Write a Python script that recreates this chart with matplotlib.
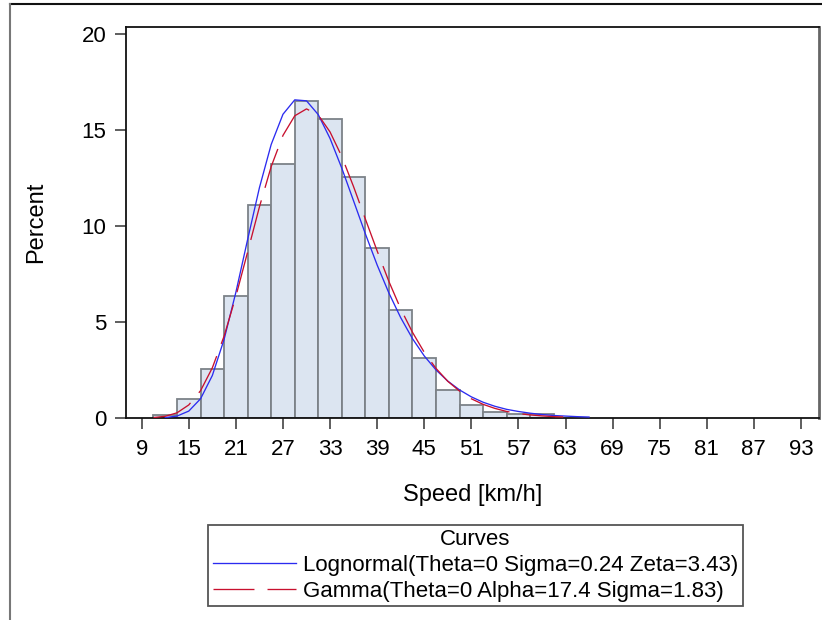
import matplotlib
matplotlib.use("Agg")
import matplotlib.pyplot as plt
from matplotlib.lines import Line2D

plt.rcParams['font.family'] = ['Liberation Sans', 'DejaVu Sans']
plt.rcParams['lines.scale_dashes'] = False

# histogram: bin midpoints (km/h) and percent of observations
bin_mid = [12, 15, 18, 21, 24, 27, 30, 33, 36, 39, 42, 45, 48, 51, 54, 57, 60]
percent = [0.17, 0.99, 2.53, 6.37, 11.06, 13.23, 16.48, 15.57, 12.54, 8.85,
           5.61, 3.13, 1.44, 0.66, 0.33, 0.21, 0.19]
bin_width = 3

# fitted curves
logn_x = [12, 13.5, 15, 16.5, 18, 19.5, 21, 22.5, 24, 25.5, 27, 28.5, 30, 31.5,
          33, 34.5, 36, 37.5, 39, 40.5, 42, 43.5, 45, 46.5, 48, 49.5, 51, 52.5,
          54, 55.5, 57, 58.5, 60, 61.5, 63, 64.5, 66]
logn_y = [0.02, 0.10, 0.36, 1.00, 2.21, 4.09, 6.54, 9.29, 11.98, 14.23, 15.80,
          16.55, 16.50, 15.78, 14.54, 12.99, 11.29, 9.58, 7.96, 6.50, 5.22, 4.13,
          3.23, 2.50, 1.92, 1.46, 1.10, 0.82, 0.61, 0.45, 0.34, 0.25, 0.18, 0.13,
          0.10, 0.07, 0.05]
gamma_x = [10.5, 12, 13.5, 15, 16.5, 18, 19.5, 21, 22.5, 24, 25.5, 27, 28.5, 30,
           31.5, 33, 34.5, 36, 37.5, 39, 40.5, 42, 43.5, 45, 46.5, 48, 49.5, 51,
           52.5, 54, 55.5, 57, 58.5, 60, 61.5, 63]
gamma_y = [0.02, 0.09, 0.27, 0.68, 1.42, 2.61, 4.26, 6.33, 8.64, 10.98, 13.08,
           14.70, 15.72, 16.08, 15.76, 14.88, 13.60, 12.03, 10.35, 8.69, 7.10,
           5.68, 4.46, 3.42, 2.58, 1.91, 1.40, 1.00, 0.71, 0.50, 0.34, 0.23, 0.16,
           0.11, 0.07, 0.05]

x_ticks = [9, 15, 21, 27, 33, 39, 45, 51, 57, 63, 69, 75, 81, 87, 93]
y_ticks = [0, 5, 10, 15, 20]

logn_label = "Lognormal(Theta=0 Sigma=0.24 Zeta=3.43)"
gamma_label = "Gamma(Theta=0 Alpha=17.4 Sigma=1.83)"

W, H = 822, 620
fig = plt.figure(figsize=(W / 100, H / 100), dpi=100)
ax = fig.add_axes([126 / W, 1 - 418 / H, (819 - 126) / W, (418 - 27) / H])

ax.bar(bin_mid, percent, width=bin_width, color='#dce5f1',
       edgecolor='#7c8288', linewidth=1.3, zorder=2)

ax.plot(logn_x, logn_y, color='#2b2bf0', linewidth=0.95, zorder=3, label=logn_label)
ax.plot(gamma_x, gamma_y, color='#c8102e', linewidth=0.95, zorder=3,
        dashes=(29.5, 9.4), label=gamma_label)

ax.set_xlim(7, 95.3)
ax.set_ylim(0, 20.34)
ax.set_xticks(x_ticks)
ax.set_yticks(y_ticks)
ax.tick_params(axis='both', direction='out', length=8, width=1.1,
               labelsize=16, color='#333333')
ax.tick_params(axis='x', pad=7)
ax.tick_params(axis='y', pad=6)

for side in ['left', 'bottom', 'top']:
    ax.spines[side].set_linewidth(1.3)
    ax.spines[side].set_color('#111111')
ax.spines['right'].set_linewidth(2)
ax.spines['right'].set_color('#666666')

ax.set_xlabel('Speed [km/h]', fontsize=17, va='center')
ax.xaxis.set_label_coords(0.5, (418 - 495) / 391)
ax.set_ylabel('Percent', fontsize=17, va='center')
ax.yaxis.set_label_coords((36 - 126) / 693, 0.5)

leg = ax.legend(loc='center', bbox_to_anchor=(475.5 / W, 1 - 565.5 / H),
                bbox_transform=fig.transFigure, title='Curves', fontsize=16,
                title_fontsize=16, frameon=True, fancybox=False,
                handlelength=3.75, handletextpad=0.3, labelspacing=0.22,
                borderpad=0.2, borderaxespad=0, framealpha=1)
leg.get_frame().set_edgecolor('#555555')
leg.get_frame().set_linewidth(1.3)

# outer frame around the graph (only top and left show)
fig.add_artist(Line2D([10 / W, 1], [1 - 4 / H, 1 - 4 / H],
                      transform=fig.transFigure, color='#111111', linewidth=1.5))
fig.add_artist(Line2D([10 / W, 10 / W], [0, 1 - 4 / H],
                      transform=fig.transFigure, color='#777777', linewidth=1.5))

fig.savefig('out.png', dpi=100)
